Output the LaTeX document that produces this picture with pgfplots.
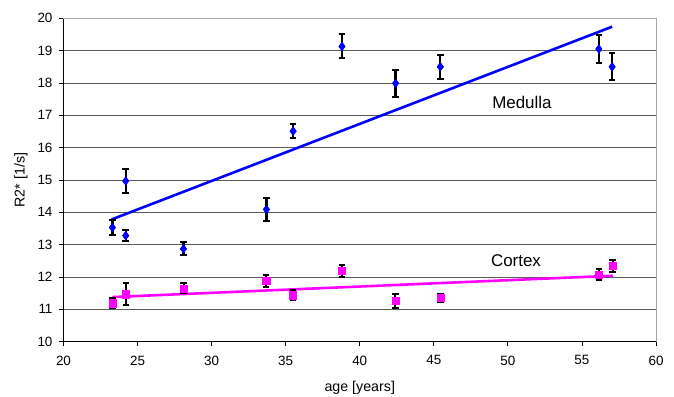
\documentclass[border=0pt]{standalone}
\usepackage{pgfplots}
\pgfplotsset{compat=1.18}
\usepackage{pgfplotstable}
\usepackage{fontspec}
\setmainfont{Liberation Sans}
\definecolor{medblue}{RGB}{0,0,255}
\definecolor{cormag}{RGB}{255,0,255}
\definecolor{gridgray}{RGB}{90,90,90}

\pgfplotstableread{
x y e
23.3 13.53 0.24
24.2 14.97 0.37
24.2 13.28 0.18
28.1 12.87 0.2
33.7 14.09 0.35
35.5 16.51 0.22
38.8 19.13 0.37
42.42 17.99 0.42
45.44 18.50 0.37
56.14 19.05 0.44
57.04 18.50 0.42
}\medulla

\pgfplotstableread{
x y e
23.3 11.19 0.15
24.22 11.47 0.35
28.12 11.65 0.15
33.68 11.88 0.18
35.5 11.44 0.16
38.8 12.19 0.18
42.4 11.27 0.22
45.44 11.36 0.12
56.14 12.08 0.17
57.08 12.34 0.2
}\cortex

\begin{document}
\begin{tikzpicture}
\path[use as bounding box] (-63.5bp,-55.3bp) rectangle (610.5bp,341.7bp);
\begin{axis}[
  scale only axis,
  width=592.5bp, height=323.4bp,
  xmin=20, xmax=60, ymin=10, ymax=20,
  xtick={20,25,...,60}, ytick={10,11,...,20},
  axis x line*=bottom, axis y line*=left,
  axis line style={black, line width=0.8pt, -},
  tick align=outside,
  major tick length=4.5bp,
  tick style={black, line width=0.8pt},
  ymajorgrids,
  major grid style={gridgray, line width=0.7pt},
  /pgf/number format/assume math mode=true,
  ticklabel style={font=\fontsize{13.5}{15}\selectfont},
  xticklabel style={yshift=-6bp},
  yticklabel style={xshift=-3bp},
  xlabel={age [years]},
  ylabel={R2* [1/s]},
  label style={font=\fontsize{14.3}{16}\selectfont},
  xlabel style={yshift=-9bp},
  ylabel style={yshift=3bp},
  clip=false,
]
\draw[gray!70, line width=0.8pt] (rel axis cs:1,0) -- (rel axis cs:1,1) -- (rel axis cs:0,1);
% trend lines
\addplot[medblue, line width=2.6pt] coordinates {(23.25,13.78) (57.04,19.74)};
\addplot[cormag, line width=2.6pt] coordinates {(23.3,11.38) (57.08,12.04)};
% data with error bars
\addplot[only marks, mark=diamond*, mark size=4bp, medblue,
  error bars/.cd, y dir=both, y explicit, error mark=-,
  error bar style={black, line width=2.3pt},
  error mark options={rotate=90, black, line width=2pt, mark size=3.3bp}]
  table[x=x, y=y, y error=e] {\medulla};
\addplot[only marks, mark=square*, mark size=3.5bp, cormag,
  error bars/.cd, y dir=both, y explicit, error mark=-,
  error bar style={black, line width=2.3pt},
  error mark options={rotate=90, black, line width=2pt, mark size=3.3bp}]
  table[x=x, y=y, y error=e] {\cortex};
\addplot[only marks, mark=diamond*, mark size=4.3bp, medblue] table[x=x, y=y] {\medulla};
\addplot[only marks, mark=square*, mark size=3.6bp, cormag] table[x=x, y=y] {\cortex};
\node[font=\fontsize{17}{19}\selectfont] at (axis cs:50.95,17.39) {Medulla};
\node[font=\fontsize{17}{19}\selectfont] at (axis cs:50.55,12.5) {Cortex};
\end{axis}
\end{tikzpicture}
\end{document}
